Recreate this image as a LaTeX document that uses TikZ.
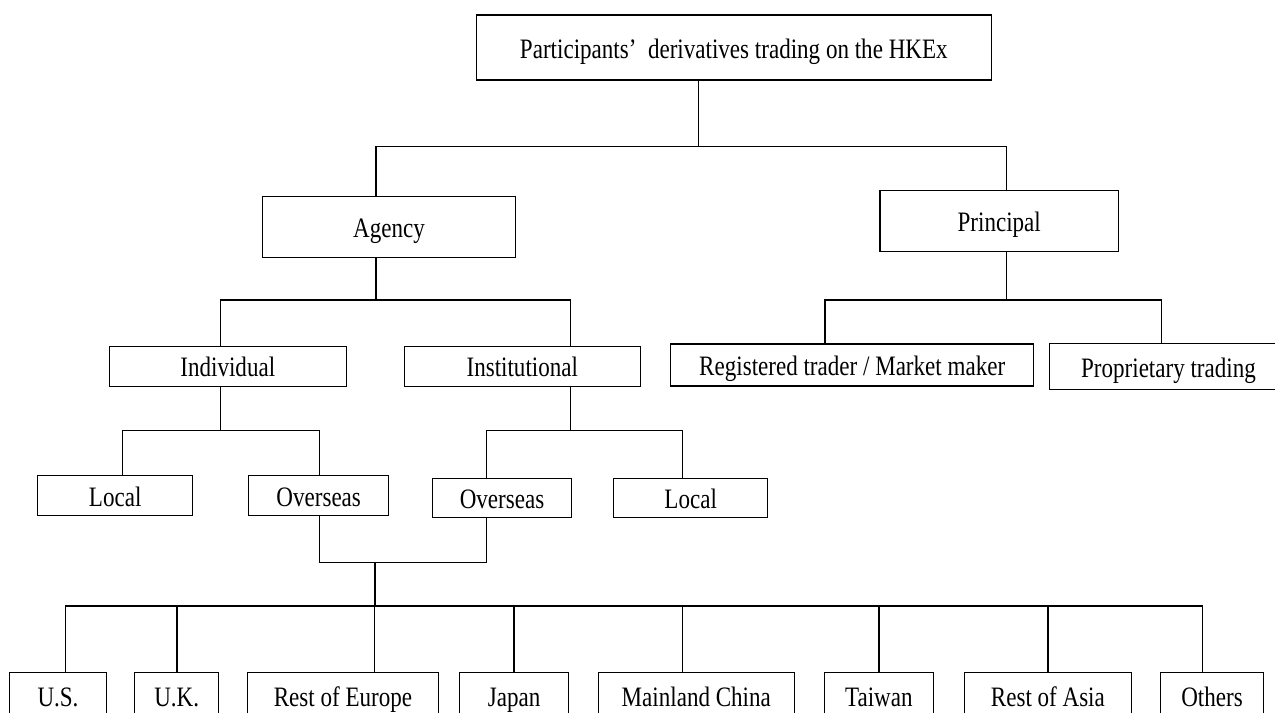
\documentclass[tikz,border=0pt]{standalone}
\usepackage{fontspec}
\setmainfont{Liberation Serif}[FakeStretch=0.82]
\usepackage{tikz}
\usetikzlibrary{calc,positioning}

\begin{document}
\begin{tikzpicture}[x=0.02cm, y=-0.02cm, line width=0.6pt,
	box/.style={draw, inner sep=0pt, text height=12.5pt, text depth=0.5pt, font=\fontsize{16}{19}\selectfont},
	tall/.style={box, minimum height=1.22cm},
	flat/.style={box, minimum height=0.79cm}]
	\clip (0,0) rectangle (1275,713);

	% Top of the tree
	\node [box, minimum width=10.31cm, minimum height=1.3cm] (top) at (733.8,47.5) {Participants’~ derivatives trading on the HKEx};
	\node [tall, minimum width=5.05cm] (agency) at (389,227.2) {Agency};
	\node [tall, minimum width=4.77cm, minimum height=1.23cm] (principal) at (999.2,220.8) {Principal};

	% Second level
	\node [flat, minimum width=4.74cm] (individual) at (227.8,366.3) {Individual};
	\node [flat, minimum width=4.73cm] (institutional) at (522.3,366.3) {Institutional};
	\node [box, minimum width=7.27cm, minimum height=0.84cm] (registered) at (852.2,365) {Registered trader / Market maker};
	\node [box, minimum width=4.78cm, minimum height=0.93cm] (proprietary) at (1168.5,366.7) {Proprietary trading};

	% Third level
	\node [flat, minimum width=3.1cm] (local1) at (115.2,495.5) {Local};
	\node [flat, minimum width=2.79cm] (overseas1) at (318.7,495.5) {Overseas};
	\node [flat, minimum width=2.79cm] (overseas2) at (502,498.2) {Overseas};
	\node [flat, minimum width=3.07cm] (local2) at (690.7,498.2) {Local};

	% Regions, bottom row
	\node [box, minimum width=1.95cm, minimum height=0.96cm] (us) at (58,696.3) {U.S.};
	\node [box, minimum width=1.67cm, minimum height=0.96cm] (uk) at (176.7,696.3) {U.K.};
	\node [box, minimum width=3.81cm, minimum height=0.96cm] (europe) at (343,696.3) {Rest of Europe};
	\node [box, minimum width=2.19cm, minimum height=0.96cm] (japan) at (514.2,696.3) {Japan};
	\node [box, minimum width=3.92cm, minimum height=0.96cm] (china) at (696.3,696.3) {Mainland China};
	\node [box, minimum width=2.18cm, minimum height=0.96cm] (taiwan) at (878.8,696.3) {Taiwan};
	\node [box, minimum width=3.35cm, minimum height=0.96cm] (asia) at (1047.9,696.3) {Rest of Asia};
	\node [box, minimum width=2.05cm, minimum height=0.96cm] (others) at (1212,696.3) {Others};

	% Junctions of the brackets
	\coordinate (jtop) at (698.3,146.7);
	\coordinate (jag) at (376,300);
	\coordinate (jpr) at (1006.7,300);
	\coordinate (jind) at (220.3,430.7);
	\coordinate (jins) at (570.3,430.7);
	\coordinate (jov) at (375,562.7);
	\coordinate (jreg) at (375,606);

	% Brackets
	\draw (top.south -| jtop) -- (jtop);
	\draw (agency.north -| jag) |- (jtop) -| (principal.north -| jpr);
	\draw (agency.south -| jag) -- (jag);
	\draw (individual.north -| jind) |- (jag) -| (institutional.north -| jins);
	\draw (principal.south -| jpr) -- (jpr);
	\draw (registered.north -| 825,0) |- (jpr) -| (proprietary.north -| 1161.7,0);
	\draw (individual.south -| jind) -- (jind);
	\draw (local1.north -| 122.3,0) |- (jind) -| (overseas1.north -| 319.3,0);
	\draw (institutional.south -| jins) -- (jins);
	\draw (overseas2.north -| 486.7,0) |- (jins) -| (local2.north -| 682.7,0);
	\draw (overseas1.south -| 319.3,0) |- (jov) -| (overseas2.south -| 486.7,0);
	\draw (jov) -- (jreg);
	\draw (us.north -| 65.7,0) |- (jreg) -| (others.north -| 1202.7,0);
	\foreach \name/\x in {uk/177, europe/374.7, japan/514, china/682.7, taiwan/879, asia/1048}
		\draw (\name.north -| \x,0) -- (\x,606);
\end{tikzpicture}
\end{document}
